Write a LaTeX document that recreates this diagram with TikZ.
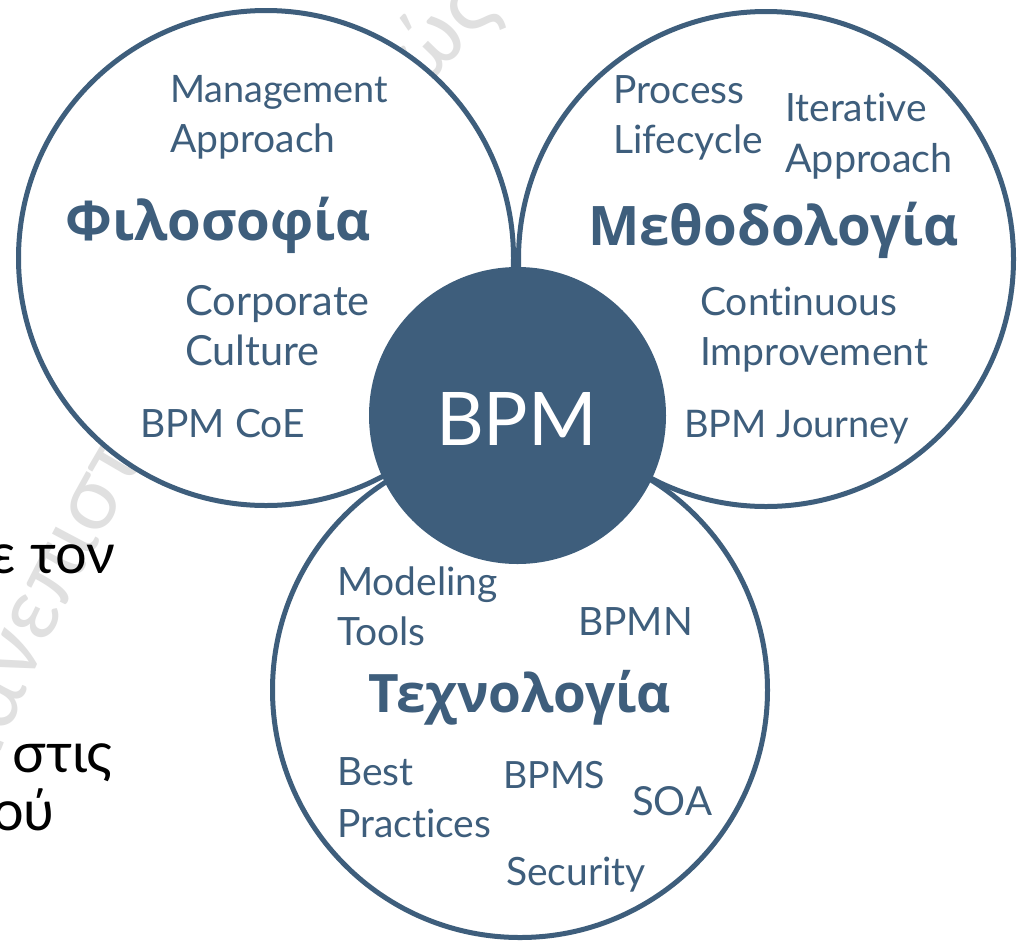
\documentclass[tikz,border=0pt]{standalone}
\usepackage{fontspec}
\setmainfont{Lato}[Ligatures={TeX,NoCommon}]
\newfontfamily\ttlfamily{Open Sans}
\newfontfamily\wmfamily{Lato}
\usetikzlibrary{decorations.text}
\definecolor{bpmblue}{RGB}{62,94,124}
\definecolor{wmgray}{RGB}{224,224,224}
\newcommand\wmfnt{\wmfamily\fontsize{89}{89}\selectfont\color{wmgray}}
\begin{document}
\begin{tikzpicture}[x=1pt,y=-1pt,
  ring/.style={circle, draw=bpmblue, line width=5pt, fill=white, minimum size=495pt, inner sep=0pt},
  core/.style={circle, fill=bpmblue, minimum size=297pt, inner sep=0pt},
  lbl/.style={text=bpmblue, font=\fontsize{39}{39}\selectfont, anchor=base west, inner sep=0pt},
  lblsz/.style={lbl, font=\fontsize{#1}{#1}\selectfont},
  ttl/.style={text=bpmblue, font=\ttlfamily\bfseries\fontsize{54.5}{54.5}\selectfont, anchor=base west, inner sep=0pt},
  bgtxt/.style={text=black, font=\fontsize{56}{56}\selectfont, inner sep=0pt}]
\useasboundingbox (0,0) rectangle (1020,943);
\fill[white] (0,0) rectangle (1020,943);
% watermark
\path[decorate, decoration={text along path, text={|\wmfnt|Πανεπιστήμιο Πειραιώς}}]
  (1957pt,-1537pt) ++(159.5:2108pt) arc[start angle=159.5, end angle=120, radius=2108pt];
% background slide text
\node[bgtxt, anchor=base east] (bg1) at (115,573) {ε τον};
\node[bgtxt, anchor=base west] (bg2) at (12,772) {στις};
\node[bgtxt, anchor=base east] (bg3) at (55,830) {ού};
% circles
\node[ring] (phil) at (266,258) {};
\node[ring] (meth) at (766,259) {};
\node[ring] (tech) at (520,690) {};
\node[core] (bpm) at (517.5,415.5) {};
\node[text=white, font=\fontsize{74}{74}\selectfont, anchor=base, inner sep=0pt] (bpmtxt) at (516.5,445) {BPM};
% philosophy
\node[lblsz=37.8] (mgmt1) at (170,102) {Management};
\node[lbl] (mgmt2) at (170,152) {Approach};
\node[ttl] (philt) at (65,240) {Φιλοσοφία};
\node[lblsz=41.5] (corp1) at (185,315) {Corporate};
\node[lblsz=41.5] (corp2) at (185,365) {Culture};
\node[lbl] (coe) at (140,437) {BPM CoE};
% methodology
\node[lbl] (proc1) at (613,103) {Process};
\node[lbl] (proc2) at (613,153) {Lifecycle};
\node[lbl] (iter1) at (785,121) {Iterative};
\node[lblsz=39.5] (iter2) at (785,172) {Approach};
\node[ttl] (metht) at (588,245) {Μεθοδολογία};
\node[lbl] (cont1) at (700,315) {Continuous};
\node[lbl] (cont2) at (700,365) {Improvement};
\node[lblsz=38] (journ) at (684,437) {BPM Journey};
% technology
\node[lbl] (mod1) at (337,595) {Modeling};
\node[lbl] (mod2) at (337,645) {Tools};
\node[lbl] (bpmn) at (578,635) {BPMN};
\node[ttl, font=\ttlfamily\bfseries\fontsize{53}{53}\selectfont] (techt) at (368,712) {Τεχνολογία};
\node[lbl] (best1) at (337,785) {Best};
\node[lbl] (best2) at (337,837) {Practices};
\node[lblsz=37.5] (bpms) at (503,788) {BPMS};
\node[lblsz=40] (soa) at (632,815) {SOA};
\node[lbl] (sec) at (506,885) {Security};
\end{tikzpicture}
\end{document}
